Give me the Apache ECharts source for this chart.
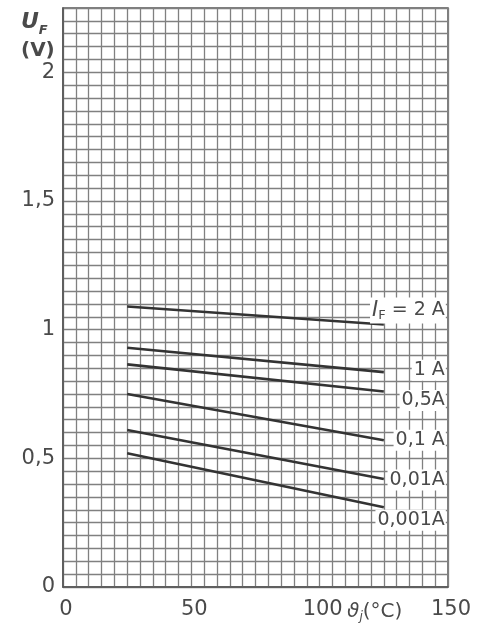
<!DOCTYPE html>
<html>
<head>
<meta charset="utf-8">
<script src="https://cdn.jsdelivr.net/npm/echarts@6/dist/echarts.min.js"></script>
<style>
html,body{margin:0;padding:0;background:#fff;}
#chart{width:479px;height:635px;}
</style>
</head>
<body>
<div id="chart"></div>
<script>
// Junction temperature (°C) at the start and end of each curve
const temps = [25, 125];
// Forward voltage U_F (V) for each forward current I_F
const uf2A    = [1.09, 1.02];
const uf1A    = [0.93, 0.835];
const uf05A   = [0.865, 0.76];
const uf01A   = [0.75, 0.57];
const uf001A  = [0.61, 0.42];
const uf0001A = [0.52, 0.31];
const curveLabels = ['{i|I}{s|F}{n| = 2 A}', '1 A', '0,5A', '0,1 A', '0,01A', '0,001A'];
const curves = [uf2A, uf1A, uf05A, uf01A, uf001A, uf0001A];
// tick label values
const xTickLabels = [0, 50, 100, 150];
const yTickLabels = [0, 0.5, 1, 1.5, 2];

const labelOffsets = [[62, -14], [62, -2], [62, 9], [62, 0], [62, 1], [62, 13]];

const ink = '#333';
const textColor = '#4a4a4a';
const font = 'DejaVu Sans';

const chart = echarts.init(document.getElementById('chart'), null, {renderer: 'canvas'});

const series = curves.map((vals, i) => ({
  type: 'line',
  data: temps.map((t, k) => [t, vals[k]]),
  symbol: 'none',
  lineStyle: {color: ink, width: 2.6},
  silent: true,
  endLabel: {
    show: true,
    formatter: curveLabels[i],
    align: 'right',
    verticalAlign: 'middle',
    distance: 0,
    offset: labelOffsets[i],
    color: textColor,
    fontFamily: font,
    fontSize: 19,
    backgroundColor: '#fff',
    padding: [1, 1, 1, 2],
    rich: {
      i: {fontStyle: 'italic', fontSize: 21, color: textColor, fontFamily: font},
      s: {fontSize: 13, color: textColor, fontFamily: font, verticalAlign: 'bottom', padding: [11, 0, 0, 0]},
      n: {fontSize: 19, color: textColor, fontFamily: font}
    }
  }
}));

const gridColor = '#808080';

chart.setOption({
  animation: false,
  backgroundColor: '#fff',
  title: [
    {
      text: '{u|U}{f|F}\n{v|(V)}',
      left: 16, top: 2,
      textStyle: {
        rich: {
          u: {fontStyle: 'italic', fontWeight: 'bold', fontSize: 22, color: textColor, fontFamily: font, lineHeight: 30},
          f: {fontStyle: 'italic', fontWeight: 'bold', fontSize: 13, color: textColor, fontFamily: font, verticalAlign: 'bottom', padding: [10, 0, 0, 0]},
          v: {fontSize: 20, fontWeight: 'bold', color: textColor, fontFamily: font, lineHeight: 28}
        }
      }
    },
    {
      text: '{t|ϑ}{j|j}{n|(°C)}',
      left: 342, top: 596,
      textStyle: {
        rich: {
          t: {fontStyle: 'italic', fontWeight: 'normal', fontSize: 20, color: textColor, fontFamily: font},
          j: {fontStyle: 'italic', fontWeight: 'normal', fontSize: 12, color: textColor, fontFamily: font, verticalAlign: 'bottom', padding: [10, 0, 0, 0]},
          n: {fontSize: 20, fontWeight: 'normal', color: textColor, fontFamily: font}
        }
      }
    }
  ],
  grid: {left: 63, right: 31, top: 8, bottom: 48, show: true, borderColor: '#555', borderWidth: 1.5, backgroundColor: 'transparent'},
  xAxis: {
    type: 'value', min: 0, max: 150, interval: 5,
    axisLine: {show: true, lineStyle: {color: '#555', width: 1.5}},
    axisTick: {show: false},
    splitLine: {show: true, lineStyle: {color: gridColor, width: 1.3}},
    axisLabel: {
      color: textColor, fontFamily: font, fontSize: 21, margin: 12,
      padding: [0, 0, 0, 6],
      formatter: v => xTickLabels.some(t => Math.abs(t - v) < 1e-6) ? String(v) : ''
    }
  },
  yAxis: {
    type: 'value', min: 0, max: 2.25, interval: 0.05,
    axisLine: {show: true, lineStyle: {color: '#555', width: 1.5}},
    axisTick: {show: false},
    splitLine: {show: true, lineStyle: {color: gridColor, width: 1.3}},
    axisLabel: {
      color: textColor, fontFamily: font, fontSize: 21, margin: 8,
      padding: [0, 0, 6, 0],
      formatter: v => yTickLabels.some(t => Math.abs(t - v) < 1e-6) ? String(Math.round(v * 10) / 10).replace('.', ',') : ''
    }
  },
  series: series
});
</script>
</body>
</html>
